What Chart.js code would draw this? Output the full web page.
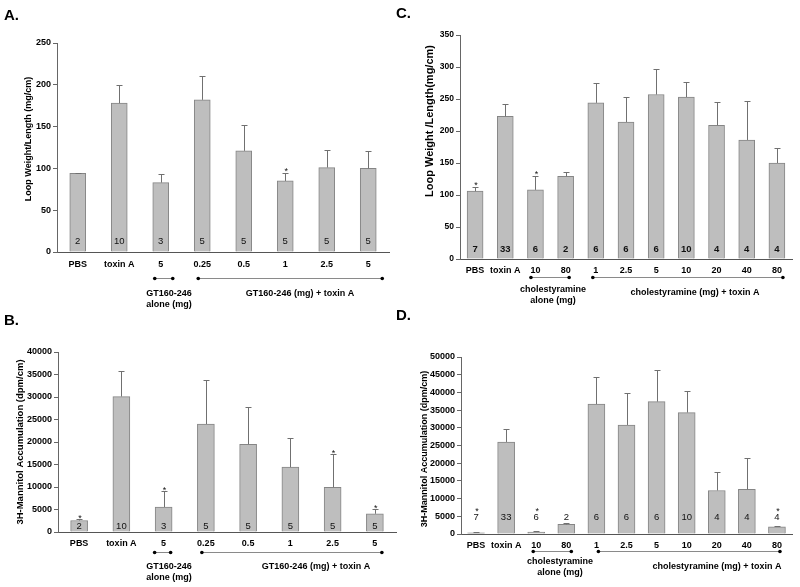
<!DOCTYPE html>
<html>
<head>
<meta charset="utf-8">
<script src="https://cdn.jsdelivr.net/npm/chart.js@4"></script>
<style>
  body { margin: 0; background: #fff; }
  #wrap { position: relative; width: 800px; height: 587px; overflow: hidden; }
  #wrap canvas { position: absolute; left: 0; top: 0; }
  .lbl { position: absolute; font: bold 15px "Liberation Sans", Arial, sans-serif; color: #000; }
</style>
</head>
<body>
<div id="wrap">
  <canvas id="chartA" width="800" height="587"></canvas>
  <canvas id="chartB" width="800" height="587"></canvas>
  <canvas id="chartC" width="800" height="587"></canvas>
  <canvas id="chartD" width="800" height="587"></canvas>
  <div class="lbl" style="left:4px;top:6px">A.</div>
  <div class="lbl" style="left:4px;top:311px">B.</div>
  <div class="lbl" style="left:396px;top:4px">C.</div>
  <div class="lbl" style="left:396px;top:306px">D.</div>
</div>
<script>
// GT160-246 panels (A, B)
const cats_gt = ['PBS', 'toxin A', '5', '0.25', '0.5', '1', '2.5', '5']
const n_gt = ['2', '10', '3', '5', '5', '5', '5', '5']

const loop_gt = [94, 178, 83, 182, 121, 85, 101, 100]
const loop_gt_err = [95, 200, 93, 211, 152, 95, 122, 121]
const loop_gt_star = [0, 0, 0, 0, 0, 1, 0, 0]

const mannitol_gt = [2550, 30100, 5550, 24000, 19500, 14400, 9950, 4050]
const mannitol_gt_err = [2800, 35800, 9050, 33700, 27800, 20900, 17300, 5100]
const mannitol_gt_star = [1, 0, 1, 0, 0, 0, 1, 1]

// cholestyramine panels (C, D)
const cats_ch = ['PBS', 'toxin A', '10', '80', '1', '2.5', '5', '10', '20', '40', '80']
const n_ch = ['7', '33', '6', '2', '6', '6', '6', '10', '4', '4', '4']

const loop_ch = [106, 223, 108, 129, 244, 214, 257, 253, 209, 186, 150]
const loop_ch_err = [113, 242, 130, 136, 275, 253, 297, 276, 245, 247, 174]
const loop_ch_star = [1, 0, 1, 0, 0, 0, 0, 0, 0, 0, 0]

const mannitol_ch = [350, 26000, 550, 2700, 36700, 30800, 37400, 34300, 12300, 12600, 2000]
const mannitol_ch_err = [550, 29800, 750, 3200, 44300, 39900, 46400, 40500, 17400, 21600, 2400]
const mannitol_ch_star = [1, 0, 1, 0, 0, 0, 0, 0, 0, 0, 1]

const FONT = '"Liberation Sans", Arial, sans-serif'

const extras = (p) => ({
  id: 'extras',
  afterDatasetsDraw(chart) {
    const ctx = chart.ctx
    const x = chart.scales.x
    const y = chart.scales.y
    ctx.save()
    // error bars
    ctx.strokeStyle = '#707070'
    ctx.lineWidth = 1
    for (let i = 0; i < p.mean.length; i++) {
      const px = Math.round(x.getPixelForValue(i)) + 0.5
      const top = y.getPixelForValue(p.mean[i])
      const et = Math.round(y.getPixelForValue(p.err[i])) + 0.5
      ctx.beginPath()
      ctx.moveTo(px, top)
      ctx.lineTo(px, et)
      ctx.moveTo(px - 3, et)
      ctx.lineTo(px + 3, et)
      ctx.stroke()
    }
    // n per group
    const cy = y.getPixelForValue(p.nVal)
    ctx.fillStyle = '#111'
    ctx.textAlign = 'center'
    ctx.textBaseline = 'middle'
    ctx.font = (p.nBold ? 'bold ' : '') + '9.5px ' + FONT
    for (let i = 0; i < p.n.length; i++) {
      ctx.fillText(p.n[i], x.getPixelForValue(i), cy)
    }
    // significance stars
    ctx.font = '9px ' + FONT
    ctx.textBaseline = 'alphabetic'
    for (let i = 0; i < p.star.length; i++) {
      if (!p.star[i]) continue
      const et = y.getPixelForValue(p.err[i])
      const sy = Math.min(et - 4, cy - 9)
      ctx.fillText('*', x.getPixelForValue(i) + 1, sy + 5.5)
    }
    // treatment brackets
    for (const b of p.brackets) {
      const x0 = x.getPixelForValue(b[0]) + b[2]
      const x1 = x.getPixelForValue(b[1]) + b[3]
      ctx.strokeStyle = '#8a8a8a'
      ctx.beginPath()
      ctx.moveTo(x0, p.brY + 0.5)
      ctx.lineTo(x1, p.brY + 0.5)
      ctx.stroke()
      ctx.fillStyle = '#000'
      for (const xx of [x0, x1]) {
        ctx.beginPath()
        ctx.arc(xx, p.brY + 0.5, 1.8, 0, Math.PI * 2)
        ctx.fill()
      }
    }
    ctx.fillStyle = '#000'
    ctx.textBaseline = 'middle'
    ctx.font = 'bold 9px ' + FONT
    for (const g of p.groups) {
      g.lines.forEach((t, k) => ctx.fillText(t, g.x, g.y + k * 10.5))
    }
    // y axis title
    ctx.translate(p.yTitle.x, p.yTitle.y)
    ctx.rotate(-Math.PI / 2)
    ctx.font = 'bold ' + p.yTitle.size + 'px ' + FONT
    ctx.fillText(p.yTitle.text, 0, 0)
    ctx.restore()
  }
})

const makePanel = (id, p) => {
  const area = p.area
  new Chart(document.getElementById(id), {
    type: 'bar',
    data: {
      labels: p.cats,
      datasets: [{
        data: p.mean,
        backgroundColor: '#bebebe',
        borderColor: '#858585',
        borderWidth: 1,
        barThickness: p.barW
      }]
    },
    options: {
      responsive: false,
      animation: false,
      events: [],
      layout: {
        padding: { left: area.padL, top: area.t, right: 800 - area.r, bottom: 587 - area.b - 30 }
      },
      plugins: { legend: { display: false }, tooltip: { enabled: false } },
      scales: {
        x: {
          grid: { display: true, drawOnChartArea: false, drawTicks: false },
          border: { color: '#555', width: 1 },
          ticks: {
            color: '#000', padding: p.xPad, maxRotation: 0, autoSkip: false,
            font: { family: FONT, size: 9, weight: 'bold' }
          },
          afterFit: s => { s.height = 30 }
        },
        y: {
          min: 0,
          max: p.yMax,
          grid: { drawOnChartArea: false, tickLength: 4, color: '#666' },
          border: { color: '#666', width: 1 },
          ticks: {
            stepSize: p.yStep, color: '#000', padding: 2,
            font: { family: FONT, size: p.tickSize, weight: 'bold' },
            callback: v => String(v)
          },
          afterFit: s => { s.width = area.l - area.padL }
        }
      }
    },
    plugins: [extras(p)]
  })
}

makePanel('chartA', {
  cats: cats_gt, mean: loop_gt, err: loop_gt_err, star: loop_gt_star, n: n_gt,
  nVal: 13, nBold: false, yMax: 250, yStep: 50, tickSize: 9, barW: 16, xPad: 7,
  area: { l: 57, padL: 0, t: 43, r: 389, b: 252 },
  brY: 278,
  brackets: [[2, 2, -6, 12], [3, 7, -4, 14]],
  groups: [
    { x: 169, y: 294, lines: ['GT160-246', 'alone (mg)'] },
    { x: 300, y: 294, lines: ['GT160-246 (mg) + toxin A'] }
  ],
  yTitle: { text: 'Loop Weight/Length (mg/cm)', x: 29, y: 139, size: 9 }
})

makePanel('chartB', {
  cats: cats_gt, mean: mannitol_gt, err: mannitol_gt_err, star: mannitol_gt_star, n: n_gt,
  nVal: 1150, nBold: false, yMax: 40000, yStep: 5000, tickSize: 9, barW: 17, xPad: 6,
  area: { l: 58, padL: 0, t: 352, r: 396, b: 532 },
  brY: 552,
  brackets: [[2, 2, -9, 7], [3, 7, -4, 7]],
  groups: [
    { x: 169, y: 567, lines: ['GT160-246', 'alone (mg)'] },
    { x: 316, y: 567, lines: ['GT160-246 (mg) + toxin A'] }
  ],
  yTitle: { text: '3H-Mannitol Accumulation (dpm/cm)', x: 20, y: 442, size: 9.5 }
})

makePanel('chartC', {
  cats: cats_ch, mean: loop_ch, err: loop_ch_err, star: loop_ch_star, n: n_ch,
  nVal: 15.5, nBold: true, yMax: 350, yStep: 50, tickSize: 8.5, barW: 16, xPad: 6,
  area: { l: 460, padL: 400, t: 35, r: 792, b: 259 },
  brY: 277,
  brackets: [[2, 3, -4.5, 3.5], [4, 10, -3, 6]],
  groups: [
    { x: 553, y: 290, lines: ['cholestyramine', 'alone (mg)'] },
    { x: 695, y: 293, lines: ['cholestyramine (mg) + toxin A'] }
  ],
  yTitle: { text: 'Loop Weight /Length(mg/cm)', x: 430, y: 121, size: 11 }
})

makePanel('chartD', {
  cats: cats_ch, mean: mannitol_ch, err: mannitol_ch_err, star: mannitol_ch_star, n: n_ch,
  nVal: 4600, nBold: false, yMax: 50000, yStep: 5000, tickSize: 9, barW: 17, xPad: 6,
  area: { l: 461, padL: 400, t: 357, r: 792, b: 534 },
  brY: 551,
  brackets: [[2, 3, -3, 5], [4, 10, 2, 3]],
  groups: [
    { x: 560, y: 562, lines: ['cholestyramine', 'alone (mg)'] },
    { x: 717, y: 567, lines: ['cholestyramine (mg) + toxin A'] }
  ],
  yTitle: { text: '3H-Mannitol Accumulation (dpm/cm)', x: 425, y: 449, size: 9 }
})
</script>
</body>
</html>
